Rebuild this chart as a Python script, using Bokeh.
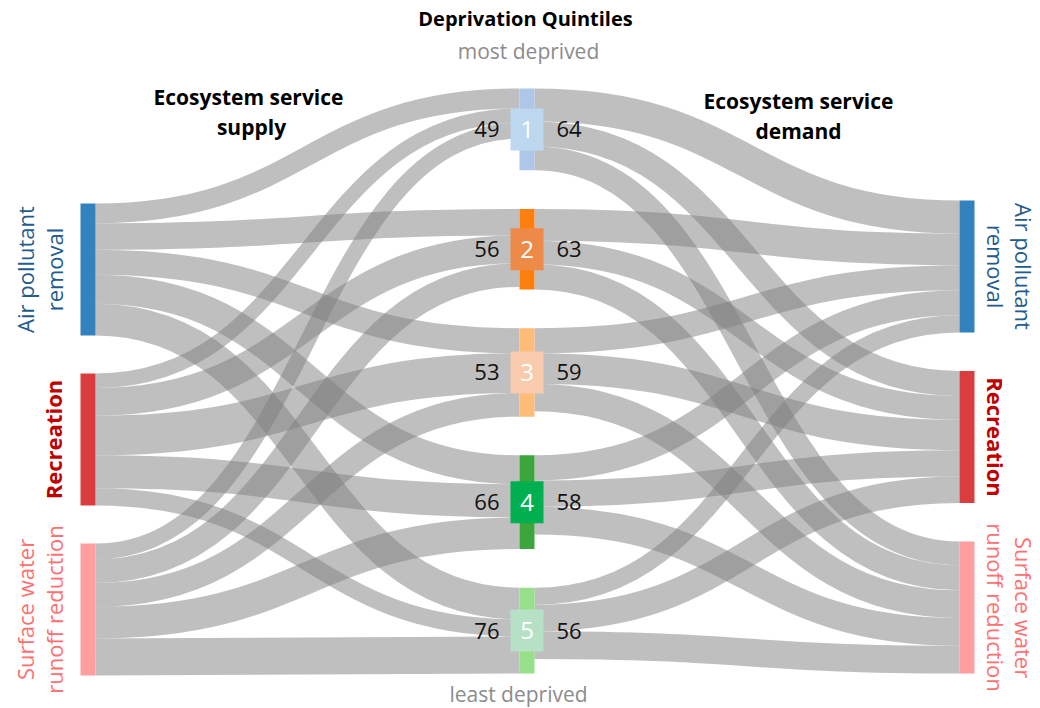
import numpy as np
from bokeh.plotting import figure
from bokeh.models import Range1d, ColumnDataSource
from bokeh.core.properties import value
from bokeh.embed import file_html
from bokeh.resources import INLINE

# ---------------- data ----------------
services = ["Air pollutant removal", "Recreation", "Surface water runoff reduction"]
service_lines = [["Air pollutant", "removal"], ["Recreation"], ["Surface water", "runoff reduction"]]
quintiles = ["1", "2", "3", "4", "5"]
# share (%) of each service's supply going to quintiles 1..5
supply_air = [15, 20, 19, 22, 24]
supply_rec = [11, 21, 30, 25, 13]
supply_sur = [12, 18, 18, 24, 28]
# share (%) of each service's demand coming from quintiles 1..5
demand_air = [25, 24, 19, 19, 13]
demand_rec = [19, 18, 23, 20, 20]
demand_sur = [18, 19, 21, 21, 21]
supply_labels = [49, 56, 53, 66, 76]
demand_labels = [64, 63, 59, 58, 56]

# ---------------- styling ----------------
service_colors = ["#3182bd", "#d93d3d", "#ff9e9e"]
service_text_colors = ["#245b8e", "#c00000", "#ff7070"]
service_bold = ["normal", "bold", "normal"]
q_bar_colors = ["#aec7e8", "#ff7f0e", "#ffbb78", "#3ca63c", "#98df8a"]
q_box_colors = ["#bdd7ee", "#ee8a48", "#f8cbad", "#00b050", "#b7e1c6"]
FONT = value("Open Sans")

K = 1.32  # px per percent
XL0, XL1 = 80, 95
XM0, XM1 = 519, 534
XR0, XR1 = 959, 974

supply = [supply_air, supply_rec, supply_sur]
demand = [demand_air, demand_rec, demand_sur]

# node layout
def stack(heights, start, gap):
    tops = []
    y = start
    for h in heights:
        tops.append(y)
        y += h + gap
    return tops

left_h = [sum(s) * K for s in supply]
right_h = [sum(d) * K for d in demand]
left_tops = stack(left_h, 203, 38)
right_tops = stack(right_h, 200, 38.5)
mid_in = [sum(supply[s][q] for s in range(3)) for q in range(5)]
mid_out = [sum(demand[s][q] for s in range(3)) for q in range(5)]
mid_h = [max(a, b) * K for a, b in zip(mid_in, mid_out)]
mid_gap = (673 - 88 - sum(mid_h)) / 4
mid_tops = stack(mid_h, 88, mid_gap)

# flows
fx0, fy0, fx1, fy1, fcx0, fcy0, fcx1, fcy1, fw = ([] for _ in range(9))

def add_flow(x0, ya, x1, yb, w):
    xm = (x0 + x1) / 2
    a = ya + w / 2
    b = yb + w / 2
    fx0.append(x0); fy0.append(a); fx1.append(x1); fy1.append(b)
    fcx0.append(xm); fcy0.append(a); fcx1.append(xm); fcy1.append(b)
    fw.append(w)

mid_in_off = [0.0] * 5
for s in range(3):
    off = 0.0
    for q in range(5):
        w = supply[s][q] * K
        add_flow(XL1, left_tops[s] + off, XM0, mid_tops[q] + mid_in_off[q], w)
        off += w
        mid_in_off[q] += w

right_in_off = [0.0] * 3
for q in range(5):
    off = 0.0
    for s in range(3):
        w = demand[s][q] * K
        add_flow(XM1, mid_tops[q] + off, XR0, right_tops[s] + right_in_off[s], w)
        off += w
        right_in_off[s] += w

flows = ColumnDataSource(dict(x0=fx0, y0=fy0, x1=fx1, y1=fy1, cx0=fcx0, cy0=fcy0,
                              cx1=fcx1, cy1=fcy1, w=fw))

p = figure(width=1040, height=708, output_backend="svg", toolbar_location=None,
           x_range=Range1d(0, 1040), y_range=Range1d(708, 0),
           x_axis_type=None, y_axis_type=None, min_border=0)
p.grid.visible = False
p.outline_line_color = None

p.bezier(x0="x0", y0="y0", x1="x1", y1="y1", cx0="cx0", cy0="cy0", cx1="cx1", cy1="cy1",
         source=flows, line_width="w", line_color="#7f7f7f", line_alpha=0.5, line_cap="butt")

# service nodes
p.quad(left=[XL0] * 3, right=[XL1] * 3, top=left_tops,
       bottom=[t + h for t, h in zip(left_tops, left_h)], fill_color=service_colors, line_color=None)
p.quad(left=[XR0] * 3, right=[XR1] * 3, top=right_tops,
       bottom=[t + h for t, h in zip(right_tops, right_h)], fill_color=service_colors, line_color=None)

# quintile nodes
mid_c = [t + h / 2 for t, h in zip(mid_tops, mid_h)]
p.quad(left=[XM0] * 5, right=[XM1] * 5, top=mid_tops,
       bottom=[t + h for t, h in zip(mid_tops, mid_h)], fill_color=q_bar_colors, line_color=None)
p.rect(x=[(XM0 + XM1) / 2] * 5, y=mid_c, width=33, height=42, fill_color=q_box_colors, line_color=None)
p.text(x=[(XM0 + XM1) / 2] * 5, y=mid_c, text=quintiles, text_align="center", text_baseline="middle",
       text_color="white", text_font=FONT, text_font_size="24px")
p.text(x=[499] * 5, y=mid_c, text=[str(v) for v in supply_labels], text_align="right",
       text_baseline="middle", text_color="#111111", text_font=FONT, text_font_size="22px")
p.text(x=[556] * 5, y=mid_c, text=[str(v) for v in demand_labels], text_align="left",
       text_baseline="middle", text_color="#111111", text_font=FONT, text_font_size="22px")

# service labels (rotated)
for s in range(3):
    lines = service_lines[s]
    cl = left_tops[s] + left_h[s] / 2
    cr = right_tops[s] + right_h[s] / 2
    if len(lines) == 2:
        lx = [24, 53]
        rx = [1023, 995]
    else:
        lx = [52]
        rx = [995]
    size = "22px"
    p.text(x=lx, y=[cl] * len(lines), text=lines, angle=np.pi / 2, text_align="center",
           text_baseline="middle", text_color=service_text_colors[s], text_font=FONT,
           text_font_size=size, text_font_style=service_bold[s])
    p.text(x=rx, y=[cr] * len(lines), text=lines, angle=-np.pi / 2, text_align="center",
           text_baseline="middle", text_color=service_text_colors[s], text_font=FONT,
           text_font_size=size, text_font_style=service_bold[s])

# titles
p.text(x=[525], y=[18], text=["Deprivation Quintiles"], text_align="center", text_baseline="middle",
       text_color="black", text_font=FONT, text_font_size="20px", text_font_style="bold")
p.text(x=[528, 518], y=[50, 693], text=["most deprived", "least deprived"], text_align="center",
       text_baseline="middle", text_color="#8c8c8c", text_font=FONT, text_font_size="21px")
p.text(x=[248, 251], y=[96, 126], text=["Ecosystem service", "supply"], text_align="center",
       text_baseline="middle", text_color="black", text_font=FONT, text_font_size="21px",
       text_font_style="bold")
p.text(x=[798, 798], y=[100, 130], text=["Ecosystem service", "demand"], text_align="center",
       text_baseline="middle", text_color="black", text_font=FONT, text_font_size="21px",
       text_font_style="bold")

open("out.html", "w").write(file_html(p, INLINE))
